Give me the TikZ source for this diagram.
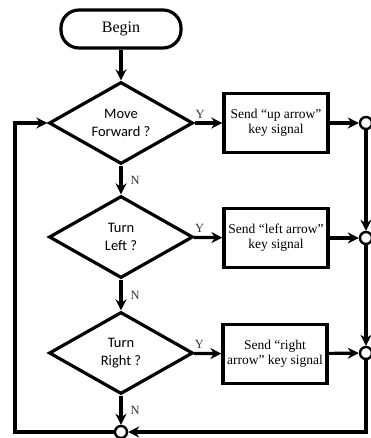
\documentclass[tikz,border=0pt]{standalone}
\usepackage{fontspec}
\setmainfont{Liberation Serif}
\newfontfamily\calfont{Carlito}
\usetikzlibrary{shapes.geometric,arrows.meta}
\begin{document}
\begin{tikzpicture}[x=1pt, y=-1pt, line width=3.2pt, >={Stealth[length=11pt,width=11pt,inset=3.5pt]},
  term/.style = {draw, rectangle, rounded corners=18pt, minimum width=120pt, minimum height=38pt, font=\fontsize{16}{18}\selectfont},
  dec/.style = {draw, diamond, aspect=1.75, minimum width=144pt, minimum height=82pt, inner sep=0pt, align=center, font=\calfont\fontsize{14.5}{18}\selectfont},
  act/.style = {draw, rectangle, minimum width=104pt, minimum height=59pt, inner sep=1pt, align=center, font=\fontsize{13.5}{15}\selectfont},
  merge/.style = {draw, circle, fill=white, minimum size=12pt, inner sep=0pt, line width=2.4pt},
  lbl/.style = {font=\fontsize{12.5}{14}\selectfont, text=black!80, inner sep=3pt}]
  \useasboundingbox (0,0) rectangle (370,438);
  \node[term] (begin) at (121,29) {Begin};
  \node[dec] (d1) at (121,123) {Move\\Forward ?};
  \node[dec] (d2) at (121,237) {Turn\\Left ?};
  \node[dec] (d3) at (121,353) {Turn\\Right ?};
  \node[act] (b1) at (276,123) {Send “up arrow”\\key signal};
  \node[act] (b2) at (276,238) {Send “left arrow”\\key signal};
  \node[act] (b3) at (275,354) {Send “right\\arrow” key signal};
  \node[merge] (c1) at (366,123) {};
  \node[merge] (c2) at (366,238) {};
  \node[merge] (c3) at (366,353) {};
  \node[merge] (c4) at (121,432) {};
  \coordinate (loop) at (15,432);
  \draw[->] (begin) to (d1);
  \draw[->] (d1) to node[lbl,above,pos=0.2] {Y} (b1);
  \draw[->] (d2) to node[lbl,above,pos=0.2] {Y} (b2);
  \draw[->] (d3) to node[lbl,above,pos=0.2] {Y} (b3);
  \draw[->] (b1) to (c1);
  \draw[->] (b2) to (c2);
  \draw[->] (b3) to (c3);
  \draw[->] (d1) to node[lbl,right,pos=0.5,xshift=5pt] {N} (d2);
  \draw[->] (d2) to node[lbl,right,pos=0.5,xshift=5pt] {N} (d3);
  \draw[->] (d3) to node[lbl,right,pos=0.5,xshift=5pt] {N} (c4);
  \draw[->] (c1) to (c2);
  \draw[->] (c2) to (c3);
  \draw[->] (c3.south) |- (c4.east);
  \draw[->] (c4.west) -- (loop) |- (d1.west);
\end{tikzpicture}
\end{document}
